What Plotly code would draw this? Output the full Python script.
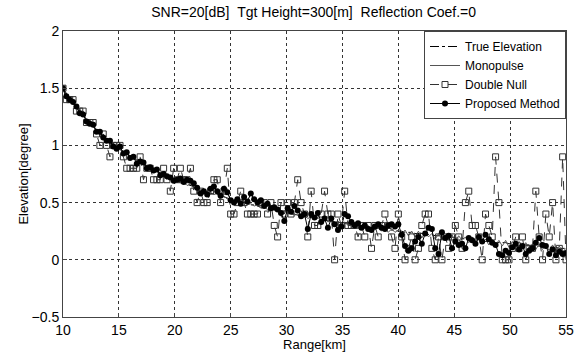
import plotly.graph_objects as go

# Range samples [km]
range_km = [
    10.0, 10.3, 10.6, 10.9, 11.2, 11.5, 11.8, 12.1, 12.4, 12.7,
    13.0, 13.3, 13.6, 13.9, 14.2, 14.5, 14.8, 15.1, 15.4, 15.7,
    16.0, 16.3, 16.6, 16.9, 17.2, 17.5, 17.8, 18.1, 18.4, 18.7,
    19.0, 19.3, 19.6, 19.9, 20.2, 20.5, 20.8, 21.1, 21.4, 21.7,
    22.0, 22.3, 22.6, 22.9, 23.2, 23.5, 23.8, 24.1, 24.4, 24.7,
    25.0, 25.3, 25.6, 25.9, 26.2, 26.5, 26.8, 27.1, 27.4, 27.7,
    28.0, 28.3, 28.6, 28.9, 29.2, 29.5, 29.8, 30.1, 30.4, 30.7,
    31.0, 31.3, 31.6, 31.9, 32.2, 32.5, 32.8, 33.1, 33.4, 33.7,
    34.0, 34.3, 34.6, 34.9, 35.2, 35.5, 35.8, 36.1, 36.4, 36.7,
    37.0, 37.3, 37.6, 37.9, 38.2, 38.5, 38.8, 39.1, 39.4, 39.7,
    40.0, 40.3, 40.6, 40.9, 41.2, 41.5, 41.8, 42.1, 42.4, 42.7,
    43.0, 43.3, 43.6, 43.9, 44.2, 44.5, 44.8, 45.1, 45.4, 45.7,
    46.0, 46.3, 46.6, 46.9, 47.2, 47.5, 47.8, 48.1, 48.4, 48.7,
    49.0, 49.3, 49.6, 49.9, 50.2, 50.5, 50.8, 51.1, 51.4, 51.7,
    52.0, 52.3, 52.6, 52.9, 53.2, 53.5, 53.8, 54.1, 54.4, 54.7,
    55.0,
]

# Elevation [degree]
true_elev = [
    1.50, 1.45, 1.41, 1.37, 1.33, 1.30, 1.26, 1.23, 1.20, 1.17,
    1.14, 1.11, 1.08, 1.06, 1.03, 1.01, 0.99, 0.97, 0.95, 0.93,
    0.91, 0.89, 0.87, 0.85, 0.84, 0.82, 0.80, 0.79, 0.77, 0.76,
    0.74, 0.73, 0.72, 0.71, 0.69, 0.68, 0.67, 0.66, 0.65, 0.64,
    0.62, 0.61, 0.60, 0.59, 0.58, 0.58, 0.57, 0.56, 0.55, 0.54,
    0.53, 0.52, 0.51, 0.51, 0.50, 0.49, 0.48, 0.48, 0.47, 0.46,
    0.46, 0.45, 0.44, 0.44, 0.43, 0.42, 0.42, 0.41, 0.40, 0.40,
    0.39, 0.39, 0.38, 0.38, 0.37, 0.37, 0.36, 0.35, 0.35, 0.34,
    0.34, 0.33, 0.33, 0.32, 0.32, 0.32, 0.31, 0.31, 0.30, 0.30,
    0.29, 0.29, 0.28, 0.28, 0.28, 0.27, 0.27, 0.26, 0.26, 0.26,
    0.25, 0.25, 0.24, 0.24, 0.24, 0.23, 0.23, 0.23, 0.22, 0.22,
    0.22, 0.21, 0.21, 0.21, 0.20, 0.20, 0.20, 0.19, 0.19, 0.19,
    0.18, 0.18, 0.18, 0.17, 0.17, 0.17, 0.16, 0.16, 0.16, 0.15,
    0.15, 0.15, 0.15, 0.14, 0.14, 0.14, 0.13, 0.13, 0.13, 0.13,
    0.12, 0.12, 0.12, 0.12, 0.11, 0.11, 0.11, 0.11, 0.10, 0.10,
    0.10,
]

monopulse = [
    1.50, 1.45, 1.42, 1.36, 1.34, 1.29, 1.27, 1.22, 1.21, 1.16,
    1.14, 1.10, 1.09, 1.05, 1.04, 1.00, 0.99, 0.96, 0.95, 0.92,
    0.91, 0.88, 0.87, 0.84, 0.85, 0.81, 0.80, 0.78, 0.78, 0.75,
    0.74, 0.72, 0.73, 0.70, 0.70, 0.67, 0.68, 0.65, 0.66, 0.63,
    0.62, 0.60, 0.61, 0.58, 0.59, 0.57, 0.58, 0.55, 0.56, 0.53,
    0.53, 0.51, 0.52, 0.50, 0.51, 0.48, 0.49, 0.47, 0.48, 0.45,
    0.46, 0.44, 0.45, 0.43, 0.44, 0.41, 0.43, 0.40, 0.41, 0.39,
    0.40, 0.37, 0.39, 0.36, 0.38, 0.35, 0.37, 0.34, 0.36, 0.33,
    0.35, 0.32, 0.34, 0.31, 0.33, 0.30, 0.32, 0.29, 0.31, 0.28,
    0.30, 0.27, 0.29, 0.26, 0.29, 0.25, 0.28, 0.24, 0.27, 0.24,
    0.26, 0.22, 0.26, 0.21, 0.25, 0.20, 0.25, 0.19, 0.24, 0.20,
    0.23, 0.18, 0.23, 0.18, 0.22, 0.17, 0.22, 0.16, 0.21, 0.17,
    0.20, 0.15, 0.20, 0.14, 0.19, 0.14, 0.18, 0.13, 0.18, 0.13,
    0.17, 0.12, 0.17, 0.11, 0.16, 0.11, 0.16, 0.10, 0.15, 0.10,
    0.14, 0.09, 0.14, 0.09, 0.13, 0.08, 0.13, 0.08, 0.12, 0.07,
    0.10,
]

double_null = [
    1.5, 1.4, 1.4, 1.4, 1.3, 1.3, 1.3, 1.2, 1.2, 1.2,
    1.1, 1.0, 1.1, 1.0, 0.9, 1.0, 1.0, 1.0, 0.9, 0.8,
    0.8, 0.8, 0.8, 0.9, 0.7, 0.8, 0.8, 0.7, 0.7, 0.7,
    0.8, 0.7, 0.6, 0.8, 0.7, 0.8, 0.7, 0.7, 0.8, 0.6,
    0.5, 0.6, 0.5, 0.5, 0.6, 0.7, 0.7, 0.5, 0.6, 0.8,
    0.4, 0.4, 0.5, 0.6, 0.5, 0.4, 0.4, 0.4, 0.4, 0.5,
    0.5, 0.4, 0.5, 0.3, 0.2, 0.5, 0.4, 0.5, 0.4, 0.5,
    0.7, 0.5, 0.4, 0.2, 0.6, 0.3, 0.3, 0.4, 0.6, 0.4,
    0.4, 0.0, 0.4, 0.3, 0.6, 0.3, 0.3, 0.3, 0.2, 0.3,
    0.2, 0.3, 0.1, 0.3, 0.2, 0.3, 0.4, 0.3, 0.2, 0.1,
    0.4, 0.2, 0.0, 0.1, 0.2, 0.0, 0.1, 0.3, 0.4, 0.4,
    0.1, 0.0, 0.2, 0.0, 0.2, 0.1, 0.2, 0.3, 0.2, 0.1,
    0.5, 0.6, 0.3, 0.3, 0.2, 0.0, 0.4, 0.3, 0.2, 0.9,
    0.5, 0.0, 0.0, 0.0, 0.1, 0.2, 0.1, 0.2, 0.0, 0.1,
    0.1, 0.6, 0.2, 0.0, 0.4, 0.2, 0.5, 0.0, 0.1, 0.9,
    0.0,
]

proposed = [
    1.50, 1.43, 1.40, 1.38, 1.34, 1.28, 1.27, 1.21, 1.19, 1.18,
    1.12, 1.12, 1.07, 1.04, 1.04, 0.99, 0.97, 0.99, 0.93, 0.94,
    0.89, 0.90, 0.84, 0.86, 0.85, 0.80, 0.81, 0.78, 0.79, 0.74,
    0.75, 0.73, 0.72, 0.69, 0.70, 0.71, 0.68, 0.70, 0.69, 0.67,
    0.63, 0.58, 0.60, 0.57, 0.62, 0.64, 0.60, 0.56, 0.62, 0.59,
    0.52, 0.50, 0.53, 0.49, 0.55, 0.51, 0.58, 0.53, 0.50, 0.52,
    0.47, 0.49, 0.45, 0.46, 0.44, 0.41, 0.34, 0.45, 0.42, 0.47,
    0.43, 0.38, 0.40, 0.27, 0.40, 0.37, 0.41, 0.33, 0.36, 0.28,
    0.36, 0.31, 0.26, 0.29, 0.40, 0.38, 0.33, 0.30, 0.32, 0.28,
    0.30, 0.27, 0.26, 0.29, 0.31, 0.28, 0.27, 0.30, 0.31, 0.29,
    0.31, 0.22, 0.12, 0.08, 0.10, 0.16, 0.20, 0.14, 0.23, 0.28,
    0.27, 0.10, 0.05, 0.24, 0.19, 0.21, 0.10, 0.16, 0.13, 0.14,
    0.10, 0.19, 0.17, 0.14, 0.20, 0.16, 0.22, 0.18, 0.15, 0.13,
    0.05, 0.04, 0.08, 0.06, 0.11, 0.14, 0.09, 0.12, 0.05, 0.08,
    0.10, 0.15, 0.19, 0.13, 0.12, 0.05, 0.09, 0.04, 0.07, 0.05,
    0.06,
]

FONT = "Arial, Liberation Sans, sans-serif"

fig = go.Figure()

fig.add_trace(go.Scatter(
    x=range_km, y=true_elev, mode="lines", name="True Elevation",
    line=dict(color="black", width=1, dash="dashdot"),
))
fig.add_trace(go.Scatter(
    x=range_km, y=monopulse, mode="lines", name="Monopulse",
    line=dict(color="#555555", width=1),
))
fig.add_trace(go.Scatter(
    x=range_km, y=double_null, mode="lines+markers", name="Double Null",
    line=dict(color="#333333", width=1, dash="dash"),
    marker=dict(symbol="square-open", size=6, color="#333333",
                line=dict(width=1)),
))
fig.add_trace(go.Scatter(
    x=range_km, y=proposed, mode="lines+markers", name="Proposed Method",
    line=dict(color="black", width=1),
    marker=dict(symbol="circle", size=6, color="black"),
))

axis_common = dict(
    showline=True, linecolor="#444444", linewidth=1, mirror=True,
    showgrid=True, gridcolor="#333333", gridwidth=1, griddash="dot",
    ticks="inside", ticklen=4, tickcolor="#444444",
    zeroline=False, automargin=False,
    tickfont=dict(family=FONT, size=14, color="black"),
)

fig.update_xaxes(
    range=[10, 55], dtick=5, tick0=10,
    title=dict(text="Range[km]", font=dict(family=FONT, size=13, color="black"),
               standoff=0),
    **axis_common,
)
fig.update_yaxes(
    range=[-0.5, 2], dtick=0.5, tick0=-0.5,
    title=dict(text="Elevation[degree]", font=dict(family=FONT, size=13, color="black"),
               standoff=0),
    **axis_common,
)

fig.update_layout(
    width=583, height=352,
    margin=dict(l=63, r=17, t=31, b=35),
    paper_bgcolor="white", plot_bgcolor="white",
    title=dict(
        text="SNR=20[dB]\u00a0\u00a0Tgt Height=300[m]\u00a0\u00a0Reflection Coef.=0",
        x=0.538, xanchor="center", y=0.965, yanchor="middle",
        font=dict(family=FONT, size=14, color="black"),
    ),
    legend=dict(
        x=1, y=1, xanchor="right", yanchor="top",
        bgcolor="white", bordercolor="#444444", borderwidth=1,
        font=dict(family=FONT, size=12, color="black"),
        tracegroupgap=0, itemwidth=30,
    ),
    showlegend=True,
)

fig.write_html("out.html")
